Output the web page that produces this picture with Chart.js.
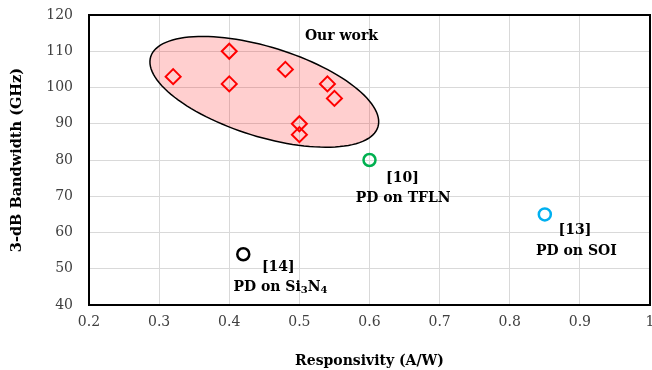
<!DOCTYPE html>
<html>
<head>
<meta charset="utf-8">
<script src="https://cdn.jsdelivr.net/npm/chart.js@4/dist/chart.umd.min.js"></script>
<style>
  html, body { margin: 0; padding: 0; background: #fff; }
  #wrap { width: 652px; height: 370px; }
</style>
</head>
<body>
<div id="wrap"><canvas id="c" width="652" height="370"></canvas></div>
<script>
// our work (diamonds)
const ourX = [0.32, 0.40, 0.40, 0.48, 0.50, 0.50, 0.54, 0.55];
const ourY = [103, 110, 101, 105, 90, 87, 101, 97];
// references
const refNames = ['[10]', '[13]', '[14]'];
const refX = [0.60, 0.85, 0.42];
const refY = [80, 65, 54];
const refColors = ['#00b050', '#00b0f0', '#000000'];

const xMin = 0.2, xMax = 1.0, xStep = 0.1;
const yMin = 40, yMax = 120, yStep = 10;

// highlight ellipse round "our work" (data units: centre + two half-axis vectors)
const ellipse = { cx: 0.45, cy: 98.8, ux: 0.162, uy: -9.7, vx: -0.019, vy: -11.8 };

// text labels (data units)
const notes = [
  { text: 'Our work', x: 0.56, y: 114 },
  { text: '[10]', x: 0.647, y: 75 },
  { text: 'PD on TFLN', x: 0.648, y: 69.5 },
  { text: '[13]', x: 0.893, y: 60.7 },
  { text: 'PD on SOI', x: 0.895, y: 54.9 },
  { text: '[14]', x: 0.47, y: 50.5 }
];
const si3n4 = { parts: [['PD on Si', 0], ['3', 1], ['N', 0], ['4', 1]], x: 0.473, y: 45 };

const serif = "'DejaVu Serif', 'Liberation Serif', serif";

const points = (xs, ys) => xs.map((x, i) => ({ x: x, y: ys[i] }));

const datasets = [{
  label: 'Our work',
  data: points(ourX, ourY),
  pointStyle: 'rectRot',
  pointRadius: 7.5,
  pointBorderWidth: 2,
  borderColor: '#ff0000',
  backgroundColor: 'rgba(0,0,0,0)'
}];
refNames.forEach((n, i) => {
  datasets.push({
    label: n,
    data: [{ x: refX[i], y: refY[i] }],
    pointStyle: 'circle',
    pointRadius: 6,
    pointBorderWidth: 2.5,
    borderColor: refColors[i],
    backgroundColor: 'rgba(0,0,0,0)'
  });
});

const decor = {
  id: 'decor',
  beforeDatasetsDraw(chart) {
    const ctx = chart.ctx, xs = chart.scales.x, ys = chart.scales.y;
    ctx.save();
    ctx.beginPath();
    for (let k = 0; k <= 120; k++) {
      const t = k / 120 * Math.PI * 2;
      const dx = ellipse.cx + ellipse.ux * Math.cos(t) + ellipse.vx * Math.sin(t);
      const dy = ellipse.cy + ellipse.uy * Math.cos(t) + ellipse.vy * Math.sin(t);
      const px = xs.getPixelForValue(dx), py = ys.getPixelForValue(dy);
      if (k == 0) ctx.moveTo(px, py); else ctx.lineTo(px, py);
    }
    ctx.closePath();
    ctx.fillStyle = 'rgba(255,0,0,0.19)';
    ctx.fill();
    ctx.lineWidth = 1.5;
    ctx.strokeStyle = '#000';
    ctx.stroke();
    ctx.restore();
  },
  afterDraw(chart) {
    const ctx = chart.ctx, xs = chart.scales.x, ys = chart.scales.y, a = chart.chartArea;
    ctx.save();
    // plot frame
    ctx.strokeStyle = '#000';
    ctx.lineWidth = 2;
    ctx.strokeRect(a.left, a.top, a.right - a.left, a.bottom - a.top);
    // labels
    ctx.fillStyle = '#000';
    ctx.textBaseline = 'middle';
    ctx.textAlign = 'center';
    ctx.font = 'bold 14px ' + serif;
    for (const n of notes) {
      ctx.fillText(n.text, xs.getPixelForValue(n.x), ys.getPixelForValue(n.y));
    }
    // PD on Si3N4 with subscripts
    const big = 'bold 14px ' + serif, small = 'bold 10px ' + serif;
    let w = 0;
    for (const [s, sub] of si3n4.parts) { ctx.font = sub ? small : big; w += ctx.measureText(s).width; }
    let px = xs.getPixelForValue(si3n4.x) - w / 2;
    const py = ys.getPixelForValue(si3n4.y);
    ctx.textAlign = 'left';
    for (const [s, sub] of si3n4.parts) {
      ctx.font = sub ? small : big;
      ctx.fillText(s, px, sub ? py + 4 : py);
      px += ctx.measureText(s).width;
    }
    ctx.restore();
  }
};

new Chart(document.getElementById('c'), {
  type: 'scatter',
  data: { datasets: datasets },
  options: {
    responsive: false,
    animation: false,
    layout: { autoPadding: false, padding: { top: 15, right: 2, left: 0, bottom: 0 } },
    plugins: { legend: { display: false }, tooltip: { enabled: false } },
    scales: {
      x: {
        min: xMin, max: xMax,
        ticks: {
          stepSize: xStep,
          padding: 9,
          color: '#404040',
          font: { family: serif, size: 14 },
          callback: v => String(Number(v.toFixed(1)))
        },
        grid: { color: '#d9d9d9', lineWidth: 1, drawTicks: false },
        border: { display: false },
        title: {
          display: true,
          text: 'Responsivity (A/W)',
          color: '#000',
          font: { family: serif, size: 14, weight: 'bold' },
          padding: { top: 8, bottom: 0 }
        },
        afterFit: s => { s.height = 65; s.paddingLeft = 0; s.paddingRight = 0; }
      },
      y: {
        min: yMin, max: yMax,
        ticks: {
          stepSize: yStep,
          padding: 16,
          color: '#404040',
          font: { family: serif, size: 14 }
        },
        grid: { color: '#d9d9d9', lineWidth: 1, drawTicks: false },
        border: { display: false },
        title: {
          display: true,
          text: '3-dB Bandwidth (GHz)',
          color: '#000',
          font: { family: serif, size: 14.5, weight: 'bold' },
          padding: { top: 9, bottom: 0 }
        },
        afterFit: s => { s.width = 89; s.paddingTop = 0; s.paddingBottom = 0; }
      }
    }
  },
  plugins: [decor]
});
</script>
</body>
</html>
